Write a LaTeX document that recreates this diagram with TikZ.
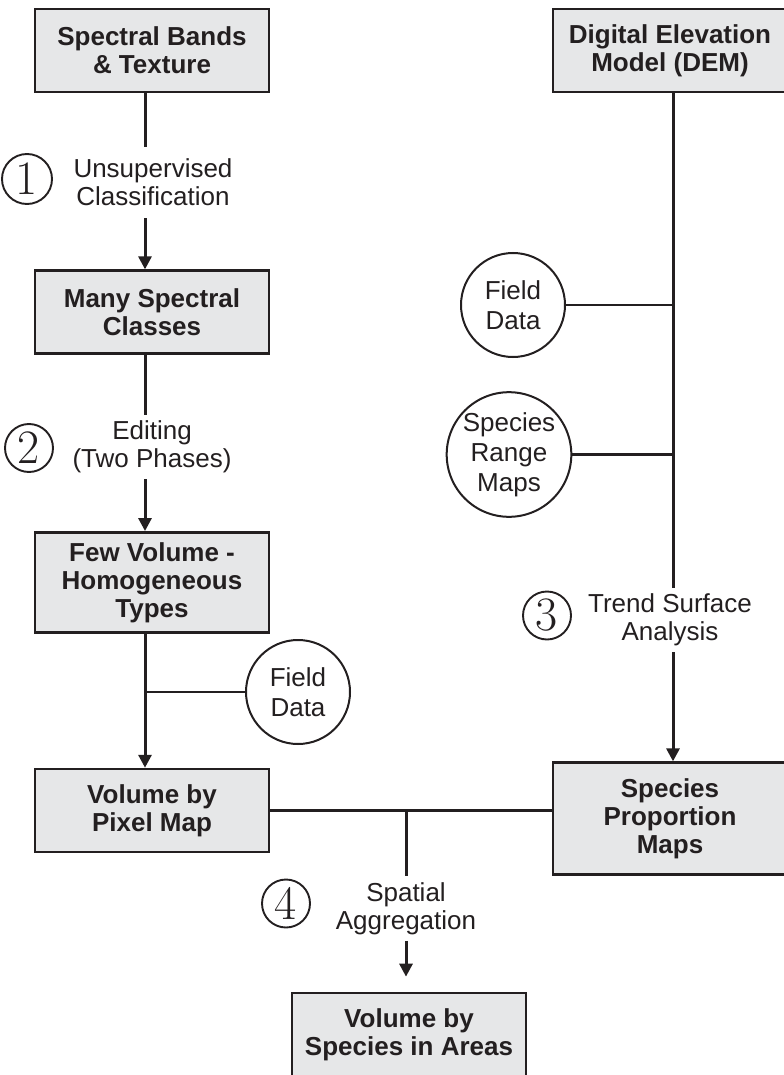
\documentclass[tikz,border=0pt]{standalone}
\usepackage{fontspec}
\setsansfont{Liberation Sans}
\usepackage{tikz}
\usetikzlibrary{arrows.meta,positioning}
\definecolor{ink}{HTML}{231F20}
\definecolor{boxgray}{HTML}{E6E7E8}

\begin{document}
\begin{tikzpicture}[
  x=0.5pt, y=-0.5pt,
  box/.style={draw=ink, fill=boxgray, line width=1.35pt, minimum width=117pt,
              minimum height=41.5pt, align=center, inner sep=2pt, text=ink,
              font=\sffamily\bfseries\fontsize{13}{14}\selectfont},
  src/.style={draw=ink, circle, line width=1pt, inner sep=0pt, align=center,
              text=ink, font=\sffamily\fontsize{13}{15}\selectfont},
  lbl/.style={align=center, minimum height=32pt, inner sep=0pt, text=ink,
              font=\sffamily\fontsize{13}{14}\selectfont},
  num/.style={draw=ink, circle, line width=0.95pt, minimum size=24pt,
              inner sep=0pt, text=ink, font=\fontsize{24}{24}\selectfont},
  link/.style={draw=ink, line width=1.5pt},
  arr/.style={link, -{Triangle[length=6.5pt, width=6.5pt]}}
]
\useasboundingbox (0,0) rectangle (783,1075);

% left column
\node[box] (bands) at (152,50.5) {Spectral Bands\\\& Texture};
\node[box, below=88pt of bands] (classes) {Many Spectral\\Classes};
\node[box, minimum height=50pt, below=88pt of classes] (types) {Few Volume -\\Homogeneous\\Types};
\node[box, below=67pt of types] (pixmap) {Volume by\\Pixel Map};

% right column
\node[box] (dem) at (670,50.5) {Digital Elevation\\Model (DEM)};
\node[box, minimum height=56pt, below=334pt of dem] (props) {Species\\Proportion\\Maps};

% result
\node[box] (areas) at (409,1034.5) {Volume by\\Species in Areas};

% x of the vertical runs
\coordinate (lx) at (145,0);
\coordinate (rx) at (673,0);
\coordinate (mx) at (406,0);

% step labels
\node[lbl, minimum height=35.5pt] (l1) at (153,182.5) {Unsupervised\\Classification};
\node[lbl] (l2) at (152,447) {Editing\\(Two Phases)};
\node[lbl] (l3) at (670,620) {Trend Surface\\Analysis};
\node[lbl] (l4) at (406,908.5) {Spatial\\Aggregation};

% step numbers
\node[num, minimum size=25pt] (n1) at (27,179) {1};
\node[num] (n2) at (29,448) {2};
\node[num] (n3) at (547,615.5) {3};
\node[num] (n4) at (286,903.5) {4};

% data sources
\node[src, minimum size=52pt] (fieldr) at (513,305) {Field\\Data};
\node[src, minimum size=62pt] (ranges) at (509,454.5) {Species\\Range\\Maps};
\node[src, minimum size=52pt] (fieldl) at (298,692) {Field\\Data};

% connectors
\draw[link] (bands.south -| lx) -- (l1.north -| lx);
\draw[arr] (l1.south -| lx) -- (classes.north -| lx);
\draw[link] (classes.south -| lx) -- (l2.north -| lx);
\draw[arr] (l2.south -| lx) -- (types.north -| lx);
\draw[arr] (types.south -| lx) -- (pixmap.north -| lx);
\draw[link, line width=1.3pt] (fieldl.west) -- (fieldl.west -| lx);

\draw[link] (dem.south -| rx) -- (l3.north -| rx);
\draw[arr] (l3.south -| rx) -- (props.north -| rx);
\draw[link, line width=1.15pt] (fieldr.east) -- (fieldr.east -| rx);
\draw[link, line width=1.15pt] (ranges.east) -- (ranges.east -| rx);

\draw[link] (pixmap.east) -- (props.west |- pixmap.east);
\draw[link] (mx |- pixmap.east) -- (l4.north -| mx);
\draw[arr, shorten >=7.5pt] (l4.south -| mx) -- (areas.north -| mx);
\end{tikzpicture}
\end{document}
